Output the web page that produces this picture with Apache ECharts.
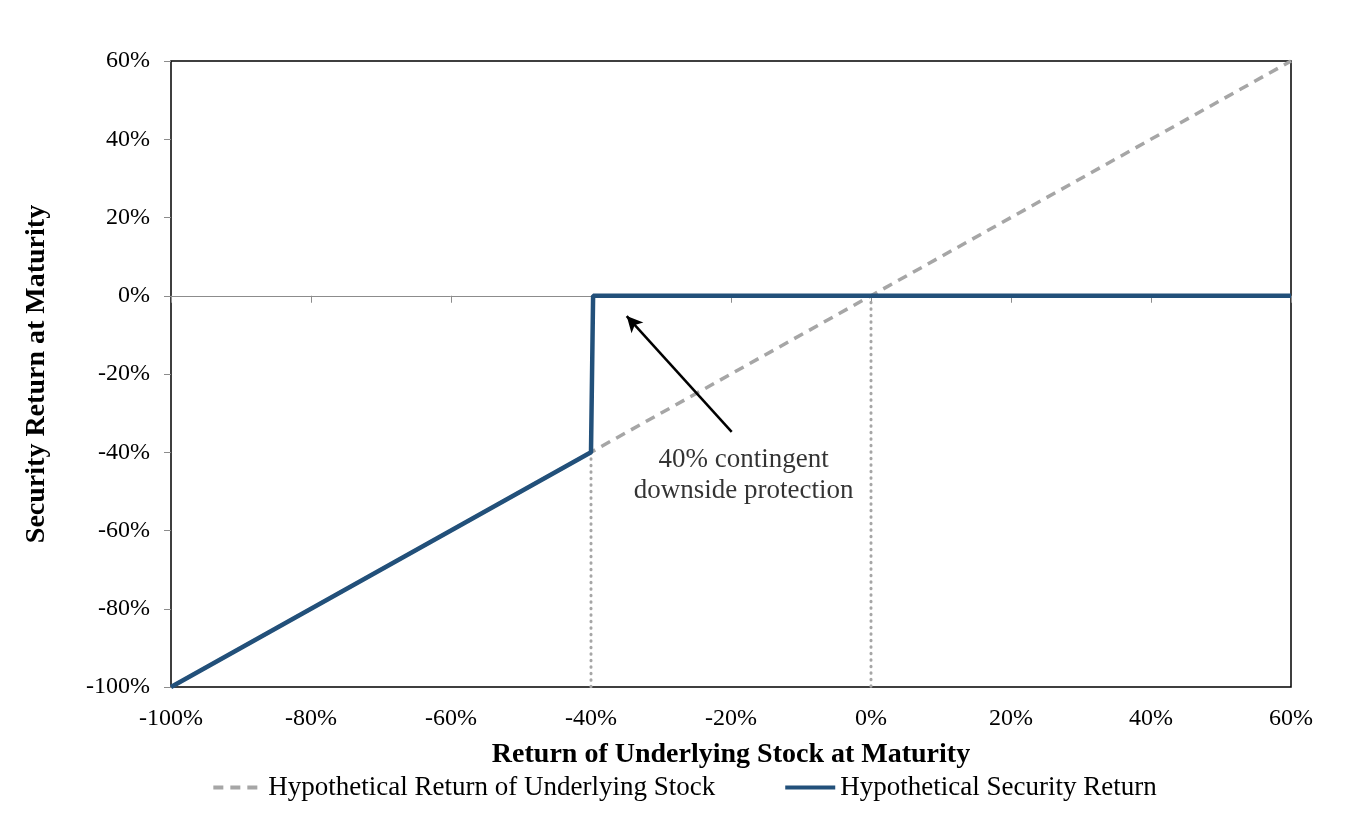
<!DOCTYPE html>
<html>
<head>
<meta charset="utf-8">
<script src="https://cdn.jsdelivr.net/npm/echarts@6/dist/echarts.min.js"></script>
<style>
  html, body { margin: 0; padding: 0; background: #fff; }
  #chart { width: 1368px; height: 820px; }
</style>
</head>
<body>
<div id="chart"></div>
<script>
// values (percent)
var stockReturn = [[-100, -100], [60, 60]];
var securityReturn = [[-100, -100], [-40, -40], [-39.7, 0], [60, 0]];
var barrierGuide = [[-40, -40], [-40, -100]];
var zeroGuide = [[0, 0], [0, -100]];
var arrowFrom = [-19.9, -34.8];
var arrowTo = [-34.9, -5.2];
var noteAt = [-18.2, -46];
var noteText = '40% contingent\ndownside protection';

var fontFam = '"Liberation Serif", "DejaVu Serif", serif';
var blue = '#22507a';
var grey = '#a6a6a6';

var chart = echarts.init(document.getElementById('chart'));

var option = {
    animation: false,
    textStyle: { fontFamily: fontFam, color: '#000' },
    grid: {
        left: 171, right: 77, top: 61, bottom: 133,
        show: true, borderColor: '#000', borderWidth: 1.5
    },
    legend: {
        bottom: 14,
        left: 'center',
        itemGap: 68,
        itemWidth: 50,
        itemHeight: 10,
        itemStyle: { opacity: 0 },
        lineStyle: { width: 4 },
        textStyle: { fontFamily: fontFam, fontSize: 27, color: '#000' },
        data: ['Hypothetical Return of Underlying Stock', 'Hypothetical Security Return']
    },
    xAxis: [{
        type: 'value',
        min: -100, max: 60, interval: 20,
        position: 'bottom',
        axisLine: { onZero: false, show: false },
        axisTick: { show: false },
        splitLine: { show: false },
        axisLabel: {
            formatter: '{value}%', fontSize: 24, margin: 20, color: '#000', fontFamily: fontFam
        },
        name: 'Return of Underlying Stock at Maturity',
        nameLocation: 'middle',
        nameGap: 54,
        nameTextStyle: { fontSize: 28, fontWeight: 'bold', color: '#000', fontFamily: fontFam }
    }, {
        type: 'value',
        min: -100, max: 60, interval: 20,
        position: 'bottom',
        axisLine: { onZero: true, lineStyle: { color: '#8c8c8c', width: 1 } },
        axisTick: { show: true, inside: false, length: 7, lineStyle: { color: '#8c8c8c' } },
        axisLabel: { show: false },
        splitLine: { show: false }
    }],
    yAxis: {
        type: 'value',
        min: -100, max: 60, interval: 20,
        position: 'left',
        axisLine: { show: false, onZero: false },
        axisTick: { show: true, length: 7, lineStyle: { color: '#8c8c8c' } },
        splitLine: { show: false },
        axisLabel: {
            formatter: '{value}%', fontSize: 24, margin: 21, color: '#000', fontFamily: fontFam
        },
        name: 'Security Return at Maturity',
        nameLocation: 'middle',
        nameGap: 120,
        nameTextStyle: { fontSize: 28, fontWeight: 'bold', color: '#000', fontFamily: fontFam }
    },
    series: [{
        name: 'guide-barrier',
        type: 'line',
        data: barrierGuide,
        symbol: 'none',
        silent: true,
        lineStyle: { color: grey, width: 3, type: [0.5, 6], cap: 'round' },
        z: 1
    }, {
        name: 'guide-zero',
        type: 'line',
        data: zeroGuide,
        symbol: 'none',
        silent: true,
        lineStyle: { color: grey, width: 3, type: [0.5, 6], cap: 'round' },
        z: 1
    }, {
        name: 'Hypothetical Return of Underlying Stock',
        type: 'line',
        data: stockReturn,
        symbol: 'none',
        color: grey,
        lineStyle: { color: grey, width: 3.5, type: [10, 7] },
        z: 2
    }, {
        name: 'Hypothetical Security Return',
        type: 'line',
        data: securityReturn,
        symbol: 'none',
        color: blue,
        lineStyle: { color: blue, width: 4.5 },
        z: 3,
        markLine: {
            silent: true,
            symbol: ['none', 'arrow'],
            symbolSize: [12, 16],
            label: { show: false },
            lineStyle: { color: '#000', width: 2.5, type: 'solid' },
            data: [[{ coord: arrowFrom }, { coord: arrowTo }]]
        }
    }, {
        name: 'note',
        type: 'scatter',
        data: [noteAt],
        symbolSize: 0,
        silent: true,
        label: {
            show: true,
            position: 'inside',
            formatter: noteText,
            fontFamily: fontFam,
            fontSize: 27,
            lineHeight: 31,
            color: '#000',
            textBorderWidth: 0,
            align: 'center'
        },
        z: 4
    }]
};

chart.setOption(option);
</script>
</body>
</html>
